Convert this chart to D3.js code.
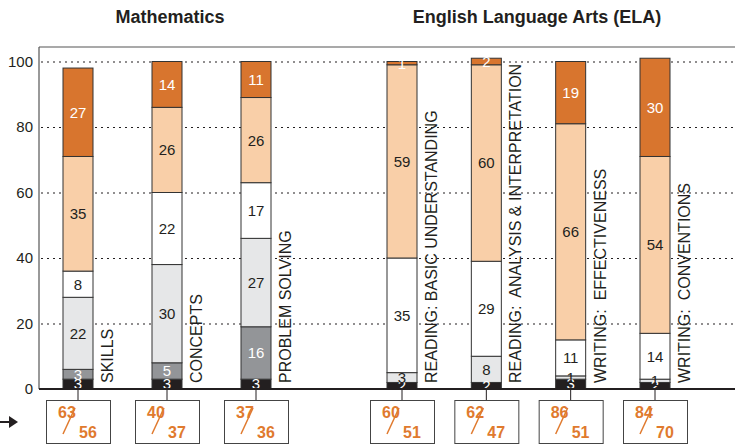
<!DOCTYPE html>
<html>
<head>
<meta charset="utf-8">
<script src="https://cdn.jsdelivr.net/npm/d3@7"></script>
<style>
  html, body { margin: 0; padding: 0; background: #fff; }
  svg { display: block; }
  text { font-family: "Liberation Sans", Arial, Helvetica, sans-serif; }
</style>
</head>
<body>
<svg id="chart" width="735" height="446"></svg>
<script>
// ---- data ----
const groupTitles = ["Mathematics", "English Language Arts (ELA)"];
const mathCategories = ["SKILLS", "CONCEPTS", "PROBLEM SOLVING"];
const elaCategories = ["READING: BASIC UNDERSTANDING", "READING:  ANALYSIS & INTERPRETATION", "WRITING:  EFFECTIVENESS", "WRITING:  CONVENTIONS"];
const categories = mathCategories.concat(elaCategories);
const levelKeys = ["l1", "l2", "l3", "l4", "l5", "l6"];
const level1 = [3, 3, 3, 2, 2, 3, 2];
const level2 = [3, 5, 16, 0, 0, 0, 0];
const level3 = [22, 30, 27, 3, 8, 1, 1];
const level4 = [8, 22, 17, 35, 29, 11, 14];
const level5 = [35, 26, 26, 59, 60, 66, 54];
const level6 = [27, 14, 11, 1, 2, 19, 30];
const scoreTop = [63, 40, 37, 60, 62, 86, 84];
const scoreBottom = [56, 37, 36, 51, 47, 51, 70];
const yTicks = [0, 20, 40, 60, 80, 100];

// ---- styles ----
const fills = ["#231f20", "#939598", "#e6e7e8", "#ffffff", "#f9cfa8", "#d8752e"];
const labelColors = ["#ffffff", "#ffffff", "#231f20", "#231f20", "#231f20", "#ffffff"];
const orange = "#e07a2e";

const svg = d3.select("#chart");
const W = 735;
const frameLeft = 39, frameTop = 47;

const y = d3.scaleLinear().domain([0, 100]).range([389, 61.5]);
const xMath = d3.scalePoint().domain(mathCategories).range([78, 256]);
const xEla = d3.scalePoint().domain(elaCategories).range([402, 655]);
const xc = c => mathCategories.includes(c) ? xMath(c) : xEla(c);
const barW = 30;

// rows
const rows = categories.map((c, i) => ({
  cat: c, l1: level1[i], l2: level2[i], l3: level3[i], l4: level4[i], l5: level5[i], l6: level6[i]
}));
const series = d3.stack().keys(levelKeys)(rows);

// titles
svg.append("text").attr("x", 170).attr("y", 23).attr("text-anchor", "middle")
  .attr("font-size", 18).attr("font-weight", "bold").attr("fill", "#231f20").text(groupTitles[0]);
svg.append("text").attr("x", 537).attr("y", 23).attr("text-anchor", "middle")
  .attr("font-size", 18).attr("font-weight", "bold").attr("fill", "#231f20").text(groupTitles[1]);

// frame
svg.append("line").attr("x1", frameLeft).attr("x2", W).attr("y1", frameTop).attr("y2", frameTop)
  .attr("stroke", "#555").attr("stroke-width", 1.2);
svg.append("line").attr("x1", frameLeft).attr("x2", frameLeft).attr("y1", frameTop).attr("y2", y(0))
  .attr("stroke", "#555").attr("stroke-width", 1.2);

// gridlines
svg.append("g").selectAll("line").data(yTicks.filter(t => t > 0)).join("line")
  .attr("x1", frameLeft + 2).attr("x2", W).attr("y1", d => y(d) + 0.5).attr("y2", d => y(d) + 0.5)
  .attr("stroke", "#231f20").attr("stroke-width", 1.2).attr("stroke-dasharray", "2,4");

// y axis labels
const yAxis = d3.axisLeft(y).tickValues(yTicks).tickSize(0).tickPadding(6);
const gy = svg.append("g").attr("transform", `translate(${frameLeft},0)`).call(yAxis);
gy.select(".domain").remove();
gy.selectAll("text").attr("font-size", 15).attr("fill", "#231f20")
  .attr("font-family", "'Liberation Sans', Arial, sans-serif");

// bars
const gBars = svg.append("g");
series.forEach((s, li) => {
  gBars.append("g").selectAll("rect").data(s.filter(d => d[1] - d[0] > 0)).join("rect")
    .attr("x", d => xc(d.data.cat) - barW / 2)
    .attr("y", d => y(d[1]))
    .attr("width", barW)
    .attr("height", d => y(d[0]) - y(d[1]))
    .attr("fill", fills[li])
    .attr("stroke", "#333").attr("stroke-width", 1);
});
// segment labels
series.forEach((s, li) => {
  gBars.append("g").selectAll("text").data(s.filter(d => d[1] - d[0] > 0)).join("text")
    .attr("x", d => xc(d.data.cat))
    .attr("y", d => (y(d[0]) + y(d[1])) / 2)
    .attr("dy", "0.36em")
    .attr("text-anchor", "middle")
    .attr("font-size", 15)
    .attr("fill", labelColors[li])
    .text(d => d[1] - d[0]);
});

// category labels (vertical)
svg.append("g").selectAll("text").data(categories).join("text")
  .attr("transform", d => `translate(${xc(d) + 35},383) rotate(-90)`)
  .attr("font-size", 16).attr("fill", "#231f20")
  .style("white-space", "pre")
  .text(d => d);

// baseline axis
svg.append("line").attr("x1", frameLeft).attr("x2", W).attr("y1", y(0)).attr("y2", y(0))
  .attr("stroke", "#231f20").attr("stroke-width", 2);

// connectors and score boxes
const boxW = 64, boxH = 43, boxTop = 400;
const gBox = svg.append("g");
const numFont = "'Liberation Sans Narrow', 'Arial Narrow', 'Liberation Sans', Arial, sans-serif";
categories.forEach((c, i) => {
  const cx = xc(c);
  const bx = cx - boxW / 2;
  gBox.append("line").attr("x1", cx).attr("x2", cx).attr("y1", y(0)).attr("y2", boxTop)
    .attr("stroke", "#231f20").attr("stroke-width", 1);
  gBox.append("rect").attr("x", bx + 0.5).attr("y", boxTop + 0.5).attr("width", boxW).attr("height", boxH)
    .attr("fill", "#fff").attr("stroke", "#444").attr("stroke-width", 1);
  gBox.append("line").attr("x1", bx + 29).attr("y1", boxTop + 8).attr("x2", bx + 17).attr("y2", boxTop + 34)
    .attr("stroke", orange).attr("stroke-width", 1.5);
  gBox.append("text").attr("x", bx + 12).attr("y", boxTop + 18)
    .attr("font-size", 16).attr("font-weight", "bold").attr("fill", orange)
    .attr("font-family", numFont)
    .text(scoreTop[i]);
  gBox.append("text").attr("x", bx + 33).attr("y", boxTop + 38)
    .attr("font-size", 16).attr("font-weight", "bold").attr("fill", orange)
    .attr("font-family", numFont)
    .text(scoreBottom[i]);
});

// arrow on the left
svg.append("line").attr("x1", 0).attr("x2", 10).attr("y1", 422).attr("y2", 422)
  .attr("stroke", "#231f20").attr("stroke-width", 2);
svg.append("path").attr("d", "M9,416 L18,422 L9,428 Z").attr("fill", "#231f20");
</script>
</body>
</html>
